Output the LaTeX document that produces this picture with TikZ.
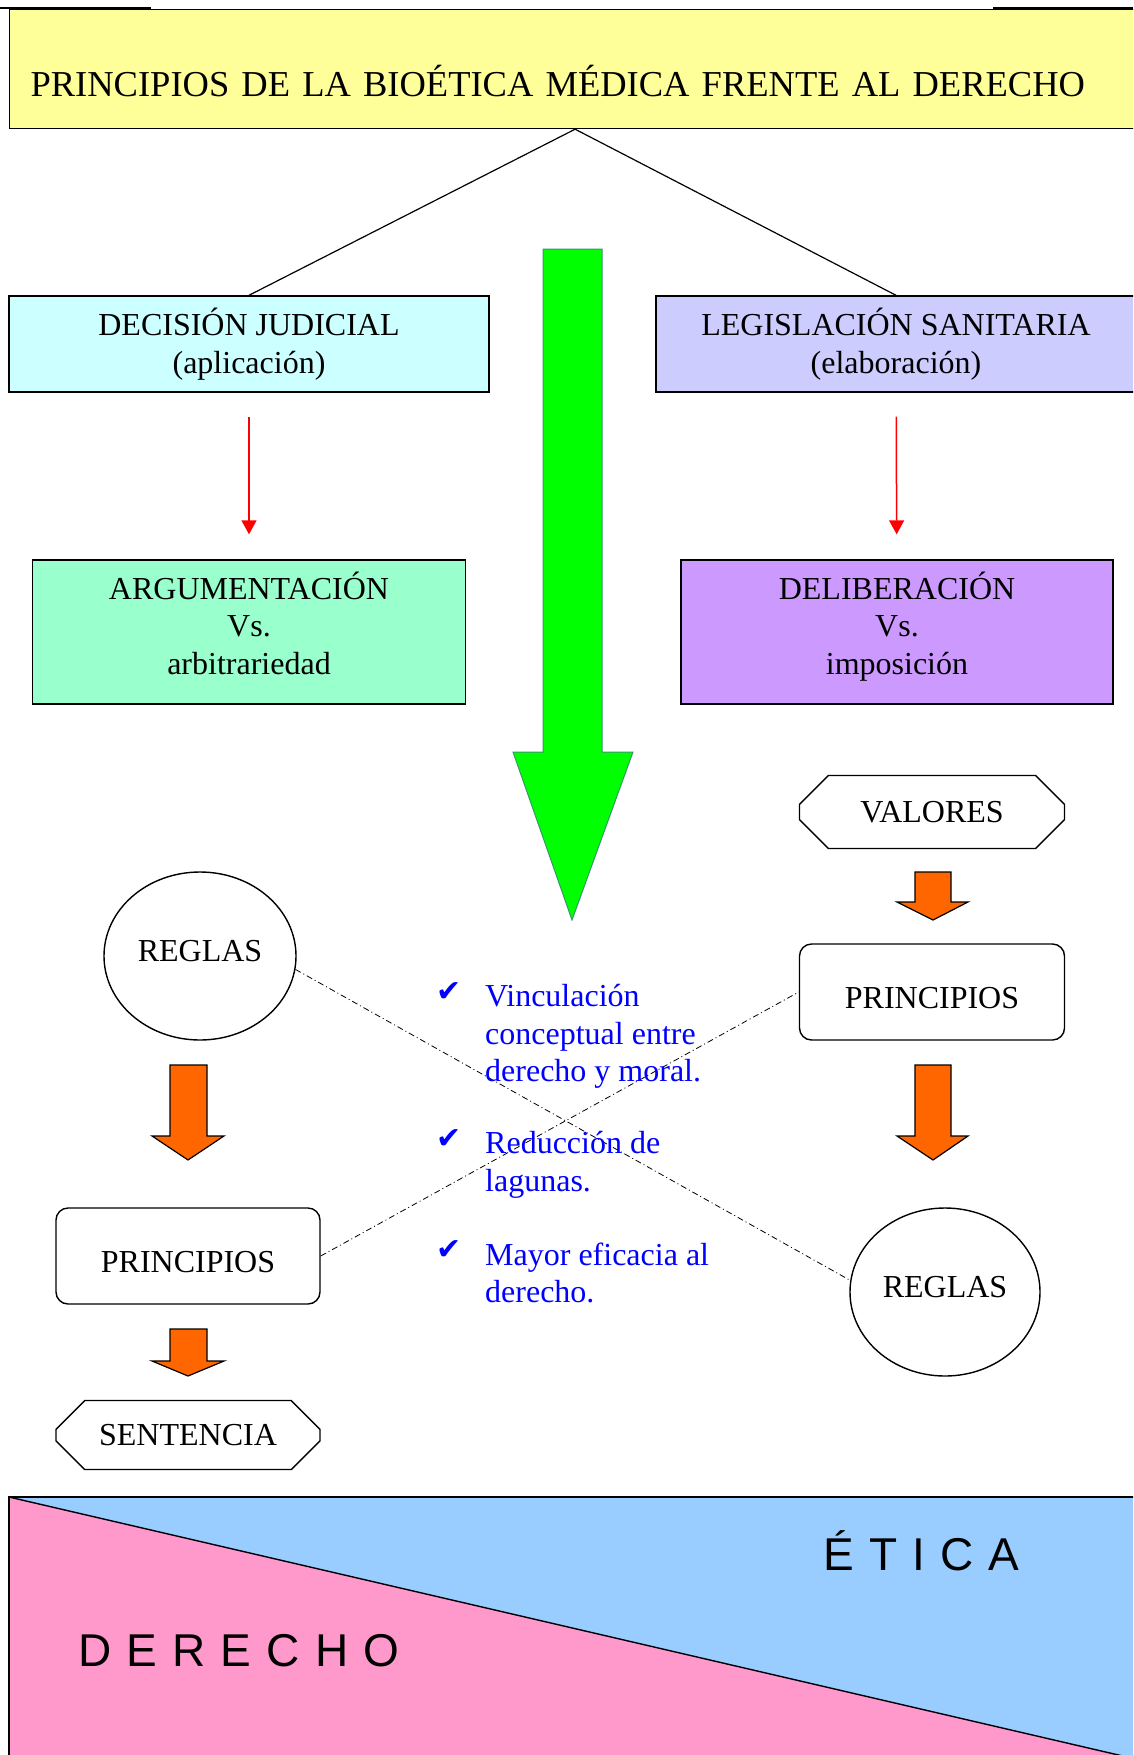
\documentclass[tikz,border=0pt]{standalone}
\usepackage{fontspec}
\setmainfont{Liberation Serif}
\newfontfamily\symfont{DejaVu Sans}
\newfontfamily\widefont[LetterSpace=33]{Liberation Sans}
\usepackage{tikz}
\usetikzlibrary{shapes.geometric,shapes.misc,calc,positioning,arrows.meta}
\definecolor{titleyellow}{HTML}{FFFF99}
\definecolor{judcyan}{HTML}{CCFFFF}
\definecolor{legblue}{HTML}{CCCCFF}
\definecolor{argmint}{HTML}{99FFCC}
\definecolor{dellilac}{HTML}{CC99FF}
\definecolor{biggreen}{HTML}{00FF00}
\definecolor{greenedge}{HTML}{339966}
\definecolor{bigorange}{HTML}{FF6600}
\definecolor{derpink}{HTML}{FF99CC}
\definecolor{eticblue}{HTML}{99CCFF}

\begin{document}
\begin{tikzpicture}[x=1pt,y=-1pt,
  box/.style={draw,line width=1.4pt,inner sep=0pt,align=center,font=\fontsize{32}{37.5}\selectfont},
  octo/.style={box,chamfered rectangle,chamfered rectangle xsep=18pt,chamfered rectangle ysep=18pt},
  roundbox/.style={box,rounded corners=12pt,text height=32pt,text depth=0pt},
  oval/.style={box,ellipse,text height=21pt,text depth=11pt},
  fatarrow/.style={draw,line width=1.2pt,fill=bigorange},
  redarrow/.style={red,line width=1.5pt,-{Triangle[width=15pt,length=14pt]}},
  dashdot/.style={line width=0.8pt,dash pattern=on 6pt off 3pt on 1pt off 3pt},
  blueitem/.style={blue,anchor=north west,inner sep=0pt,align=left,font=\fontsize{32}{37.5}\selectfont},
  check/.style={blue,inner sep=0pt,font=\symfont\fontsize{30}{32}\selectfont},
  panel/.style={anchor=base west,inner sep=0pt,font=\widefont\fontsize{46}{50}\selectfont}]
\clip (0,0) rectangle (1133,1755);

% top edge
\draw[line width=1.5pt] (0,8) -- (151,8);
\draw[line width=1.5pt] (993,8) -- (1133,8);

% title
\node (title) [draw,line width=1.2pt,fill=titleyellow,anchor=north west,inner xsep=21pt,inner ysep=0pt,
  text width=1089pt,align=left,text height=87pt,text depth=32pt,font=\fontsize{36.5}{44}\selectfont]
  at (9,9) {PRINCIPIOS DE LA BIOÉTICA MÉDICA FRENTE AL DERECHO};

% two branches
\node (dec) [box,fill=judcyan,minimum width=480pt,minimum height=96pt] at (249,344) {DECISIÓN JUDICIAL\\(aplicación)};
\node (leg) [box,fill=legblue,minimum width=480pt,minimum height=96pt] at (896,344) {LEGISLACIÓN SANITARIA\\(elaboración)};
\draw[line width=1.2pt] (title.south) -- (dec.north);
\draw[line width=1.2pt] (title.south) -- (leg.north);

\node (arg) [box,fill=argmint,minimum width=433pt,minimum height=144pt] at (249,632) {ARGUMENTACIÓN\\Vs.\\arbitrariedad\rule[-18pt]{0pt}{18pt}};
\node (del) [box,fill=dellilac,minimum width=432pt,minimum height=144pt] at (897,632) {DELIBERACIÓN\\Vs.\\imposición\rule[-18pt]{0pt}{18pt}};
\draw[redarrow,shorten <=24pt,shorten >=25pt] (dec) -- (arg);
\draw[redarrow,shorten <=24pt,shorten >=25pt] (leg) -- (del);

% big green arrow
\draw[line width=1pt,draw=greenedge,fill=biggreen] (543,249) -- (602,249) -- (602,752) -- (633,752)
  -- (572,920) -- (513,752) -- (543,752) -- cycle;

% right column
\node (valR) [octo,minimum width=265pt,minimum height=73pt] at (932,812) {VALORES};
\node (prinR) [roundbox,minimum width=265pt,minimum height=96pt] at (932,992) {PRINCIPIOS};
\node (reglasR) [oval,minimum width=190pt,minimum height=168pt] at (945,1292) {REGLAS};
\draw[fatarrow] (915,872) -- (951,872) -- (951,902) -- (968,902) -- (933,920) -- (897,902) -- (915,902) -- cycle;
\draw[fatarrow] (915,1065) -- (951,1065) -- (951,1136) -- (968,1136) -- (933,1160) -- (897,1136) -- (915,1136) -- cycle;

% left column
\node (reglasL) [oval,minimum width=192pt,minimum height=168pt] at (200,956) {REGLAS};
\node (prinL) [roundbox,minimum width=264pt,minimum height=96pt] at (188,1256) {PRINCIPIOS};
\node (sentL) [octo,minimum width=264pt,minimum height=69pt] at (188,1435) {SENTENCIA};
\draw[fatarrow] (170,1065) -- (207,1065) -- (207,1136) -- (224,1136) -- (188,1160) -- (152,1136) -- (170,1136) -- cycle;
\draw[fatarrow] (170,1329) -- (207,1329) -- (207,1361) -- (224,1361) -- (188,1376) -- (152,1361) -- (170,1361) -- cycle;

% crossing links
\draw[dashdot] (reglasL.-8) -- (reglasR.173);
\draw[dashdot] (prinL.east) -- (prinR.west);

% list in the middle
\node (chk1) [check] at (449,992) {✔};
\node (item1) [blueitem] at (485,984.5) {Vinculación\\conceptual entre\\derecho y moral.};
\node (chk2) [check] at (449,1139) {✔};
\node (item2) [blueitem] at (485,1131.5) {Reducción de\\lagunas.};
\node (chk3) [check] at (449,1250) {✔};
\node (item3) [blueitem] at (485,1242.5) {Mayor eficacia al\\derecho.};

% bottom panel
\fill[derpink] (9,1497) -- (1140,1760) -- (9,1760) -- cycle;
\fill[eticblue] (9,1497) -- (1140,1497) -- (1140,1760) -- cycle;
\draw[line width=1.4pt] (9,1760) -- (9,1497) -- (1140,1497);
\draw[line width=1.4pt] (9,1497) -- (1140,1760);
\node (etica) [panel] at (823,1570) {ÉTICA};
\node (derecho) [panel] at (78,1666) {DERECHO};
\end{tikzpicture}
\end{document}
